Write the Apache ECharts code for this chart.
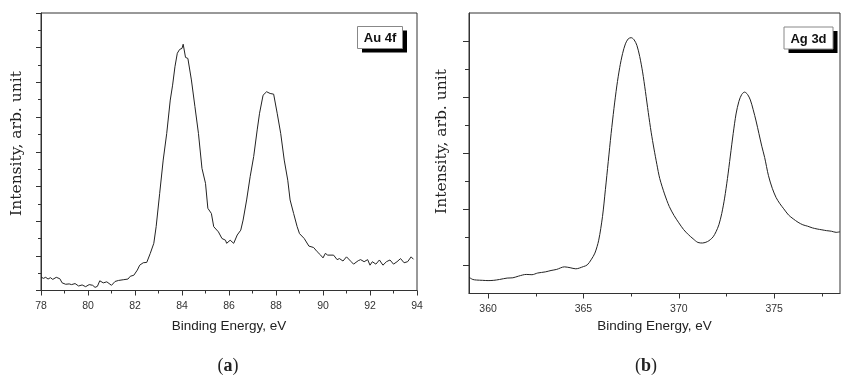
<!DOCTYPE html>
<html>
<head>
<meta charset="utf-8">
<script src="https://cdn.jsdelivr.net/npm/echarts@6/dist/echarts.min.js"></script>
<style>
  html, body { margin: 0; padding: 0; background: #fff; }
  #chart { width: 841px; height: 377px; }
</style>
</head>
<body>
<div id="chart"></div>
<script>
// (a) Au 4f spectrum
var xA = [78.0, 78.1, 78.2, 78.3, 78.4, 78.5, 78.65, 78.8, 78.9, 79.05, 79.2, 79.3, 79.45, 79.6, 79.75, 79.9,
  80.05, 80.2, 80.3, 80.4, 80.5, 80.65, 80.8, 81.0, 81.15, 81.3, 81.5, 81.7, 81.8, 81.95, 82.1, 82.2, 82.35,
  82.5, 82.65, 82.8, 82.9, 83.05, 83.2, 83.35, 83.5, 83.6, 83.7, 83.8, 83.9, 84.0, 84.05, 84.15, 84.25, 84.4,
  84.55, 84.7, 84.85, 85.0, 85.1, 85.25, 85.35, 85.55, 85.7, 85.85, 85.9, 86.05, 86.2, 86.35, 86.5, 86.6,
  86.75, 86.9, 87.05, 87.2, 87.3, 87.45, 87.6, 87.75, 87.9, 88.05, 88.2, 88.35, 88.5, 88.6, 88.75, 88.9,
  89.0, 89.2, 89.4, 89.6, 89.75, 89.9, 90.0, 90.1, 90.2, 90.45, 90.6, 90.7, 90.85, 91.0, 91.2, 91.3, 91.5,
  91.6, 91.75, 91.9, 92.0, 92.1, 92.25, 92.4, 92.55, 92.7, 92.85, 93.0, 93.15, 93.3, 93.45, 93.6, 93.75, 93.85];
var yA = [0.39, 0.35, 0.38, 0.33, 0.37, 0.32, 0.38, 0.34, 0.22, 0.18, 0.19, 0.17, 0.20, 0.13, 0.16, 0.11,
  0.17, 0.15, 0.09, 0.12, 0.28, 0.22, 0.25, 0.15, 0.26, 0.29, 0.31, 0.33, 0.41, 0.44, 0.59, 0.73, 0.80,
  0.81, 1.07, 1.36, 1.84, 2.80, 3.76, 4.53, 5.49, 5.92, 6.45, 6.84, 6.95, 6.98, 7.10, 6.72, 6.69, 6.07,
  5.30, 4.53, 3.52, 3.09, 2.37, 2.22, 1.84, 1.69, 1.50, 1.45, 1.36, 1.45, 1.36, 1.60, 1.74, 2.03,
  2.61, 3.28, 3.86, 4.63, 5.11, 5.63, 5.73, 5.68, 5.66, 5.11, 4.53, 3.76, 3.18, 2.61, 2.22, 1.84,
  1.64, 1.50, 1.28, 1.24, 1.12, 1.02, 0.94, 1.07, 1.02, 1.02, 0.89, 0.92, 0.85, 0.97, 0.83, 0.76, 0.86,
  0.89, 0.83, 0.89, 0.73, 0.83, 0.76, 0.88, 0.73, 0.83, 0.88, 0.76, 0.83, 0.92, 0.80, 0.83, 0.97, 0.90];

// (b) Ag 3d spectrum
var xB = [359.0, 359.2, 359.4, 359.7, 360.0, 360.3, 360.6, 361.0, 361.3, 361.6, 362.0, 362.3, 362.6, 363.0,
  363.3, 363.6, 364.0, 364.3, 364.6, 365.0, 365.2, 365.4, 365.6, 365.8, 366.0, 366.15, 366.3, 366.45, 366.6,
  366.75, 366.9, 367.05, 367.2, 367.35, 367.5, 367.65, 367.8, 367.95, 368.1, 368.25, 368.4, 368.55, 368.7,
  368.85, 369.0, 369.25, 369.5, 369.75, 370.0, 370.25, 370.5, 370.75, 371.0, 371.25, 371.5, 371.65, 371.8,
  371.95, 372.1, 372.25, 372.4, 372.55, 372.7, 372.85, 373.0, 373.15, 373.3, 373.45, 373.6, 373.75, 373.9,
  374.05, 374.2, 374.35, 374.5, 374.7, 374.9, 375.1, 375.3, 375.5, 375.75, 376.0, 376.25, 376.5, 376.75,
  377.0, 377.25, 377.5, 377.75, 378.0, 378.25, 378.45];
var yB = [0.58, 0.50, 0.48, 0.47, 0.46, 0.47, 0.50, 0.55, 0.56, 0.62, 0.68, 0.67, 0.73, 0.77,
  0.82, 0.86, 0.95, 0.92, 0.88, 0.96, 1.02, 1.20, 1.44, 1.90, 2.75, 3.70, 4.70, 5.70, 6.60,
  7.40, 8.05, 8.55, 8.90, 9.08, 9.12, 9.05, 8.85, 8.45, 7.90, 7.20, 6.45, 5.75, 5.15,
  4.60, 4.10, 3.55, 3.10, 2.78, 2.52, 2.28, 2.10, 1.95, 1.82, 1.80, 1.85, 1.92, 2.02,
  2.20, 2.45, 2.85, 3.40, 4.10, 4.90, 5.70, 6.40, 6.85, 7.10, 7.18, 7.10, 6.90, 6.55,
  6.15, 5.70, 5.25, 4.85, 4.20, 3.75, 3.42, 3.20, 3.02, 2.80, 2.66, 2.54, 2.45, 2.40,
  2.34, 2.30, 2.27, 2.24, 2.22, 2.18, 2.20];

var xTicksB = [360, 365, 370, 375];
var xMinorB = [362.5, 367.5, 372.5, 377.5];
var yTicksB = [1, 3, 5, 7, 9];
var yMinorB = [2, 4, 6, 8];

function pairs(xs, ys) {
  return xs.map(function (x, i) { return [x, ys[i]]; });
}

var axisColor = '#333';
var lineCol = { lineStyle: { color: axisColor, width: 1 } };
var labelFont = { color: '#333', fontSize: 10.5, fontFamily: 'Liberation Sans', margin: 10 };
var xName = 'Binding Energy, eV';
var yName = 'Intensity, arb. unit';
var xNameStyle = { color: '#222', fontSize: 13.5, fontFamily: 'Liberation Sans' };
var yTitleFont = '15.5px "DejaVu Serif"';

function yTitle(x, y) {
  return {
    type: 'text', x: x, y: y, rotation: Math.PI / 2,
    style: { text: yName, fill: '#222', font: yTitleFont, align: 'center', verticalAlign: 'middle' }
  };
}
function caption(x, y, letter) {
  return {
    type: 'text', x: x, y: y,
    style: {
      text: '{p|(}{b|' + letter + '}{p|)}', align: 'center', verticalAlign: 'middle',
      rich: {
        p: { fontSize: 18, fontFamily: 'Liberation Serif', fill: '#222' },
        b: { fontSize: 18, fontFamily: 'Liberation Serif', fontWeight: 'bold', fill: '#222' }
      }
    }
  };
}
function tagBox(x, y, w, h, label) {
  return [
    { type: 'rect', shape: { x: x + 4.5, y: y + 4, width: w, height: h }, style: { fill: '#000' } },
    { type: 'rect', shape: { x: x, y: y, width: w, height: h }, style: { fill: '#fff', stroke: '#888', lineWidth: 1 } },
    { type: 'text', x: x + w / 2, y: y + h / 2 + 1, style: { text: label, fill: '#111', font: 'bold 13px "Liberation Sans"', align: 'center', verticalAlign: 'middle' } }
  ];
}

var chart = echarts.init(document.getElementById('chart'));
chart.setOption({
  animation: false,
  grid: [
    { left: 41, top: 13, width: 376, height: 277.5, show: true, borderColor: axisColor, borderWidth: 1 },
    { left: 469, top: 13, width: 371, height: 280.5, show: true, borderColor: axisColor, borderWidth: 1 }
  ],
  xAxis: [
    {
      gridIndex: 0, type: 'value', position: 'bottom', min: 78, max: 94, interval: 2,
      axisLine: lineCol, splitLine: { show: false },
      axisTick: { length: 5, lineStyle: { color: axisColor } },
      minorTick: { show: true, splitNumber: 2, length: 3, lineStyle: { color: axisColor } },
      axisLabel: labelFont,
      name: xName, nameLocation: 'middle', nameGap: 29, nameTextStyle: xNameStyle
    },
    {
      gridIndex: 1, type: 'value', position: 'bottom', min: 359, max: 378.45,
      axisLine: lineCol, splitLine: { show: false },
      axisTick: { length: 5, customValues: xTicksB, lineStyle: { color: axisColor } },
      axisLabel: Object.assign({ customValues: xTicksB }, labelFont),
      name: xName, nameLocation: 'middle', nameGap: 26, nameTextStyle: xNameStyle
    },
    {
      gridIndex: 1, type: 'value', position: 'bottom', min: 359, max: 378.45,
      axisLine: { show: false }, splitLine: { show: false },
      axisTick: { length: 3, customValues: xMinorB, lineStyle: { color: axisColor } },
      axisLabel: { show: false }
    }
  ],
  yAxis: [
    {
      gridIndex: 0, type: 'value', position: 'left', min: 0, max: 8, interval: 1,
      axisLine: lineCol, splitLine: { show: false },
      axisTick: { length: 5, lineStyle: { color: axisColor } },
      minorTick: { show: true, splitNumber: 2, length: 3, lineStyle: { color: axisColor } },
      axisLabel: { show: false }
    },
    {
      gridIndex: 1, type: 'value', position: 'left', min: 0, max: 10,
      axisLine: lineCol, splitLine: { show: false },
      axisTick: { length: 6, customValues: yTicksB, lineStyle: { color: axisColor } },
      axisLabel: { show: false }
    },
    {
      gridIndex: 1, type: 'value', position: 'left', min: 0, max: 10,
      axisLine: { show: false }, splitLine: { show: false },
      axisTick: { length: 4, customValues: yMinorB, lineStyle: { color: axisColor } },
      axisLabel: { show: false }
    }
  ],
  series: [
    {
      type: 'line', xAxisIndex: 0, yAxisIndex: 0, data: pairs(xA, yA),
      symbol: 'none', lineStyle: { color: '#222', width: 1 }
    },
    {
      type: 'line', xAxisIndex: 1, yAxisIndex: 1, data: pairs(xB, yB),
      symbol: 'none', smooth: 0.3, lineStyle: { color: '#222', width: 1 }
    }
  ],
  graphic: [].concat(
    tagBox(357.5, 26.5, 45, 22, 'Au 4f'),
    tagBox(784, 27, 49, 22, 'Ag 3d'),
    [yTitle(17, 143.5), yTitle(442, 141.5), caption(228, 366, 'a'), caption(646, 366, 'b')]
  )
});
</script>
</body>
</html>
